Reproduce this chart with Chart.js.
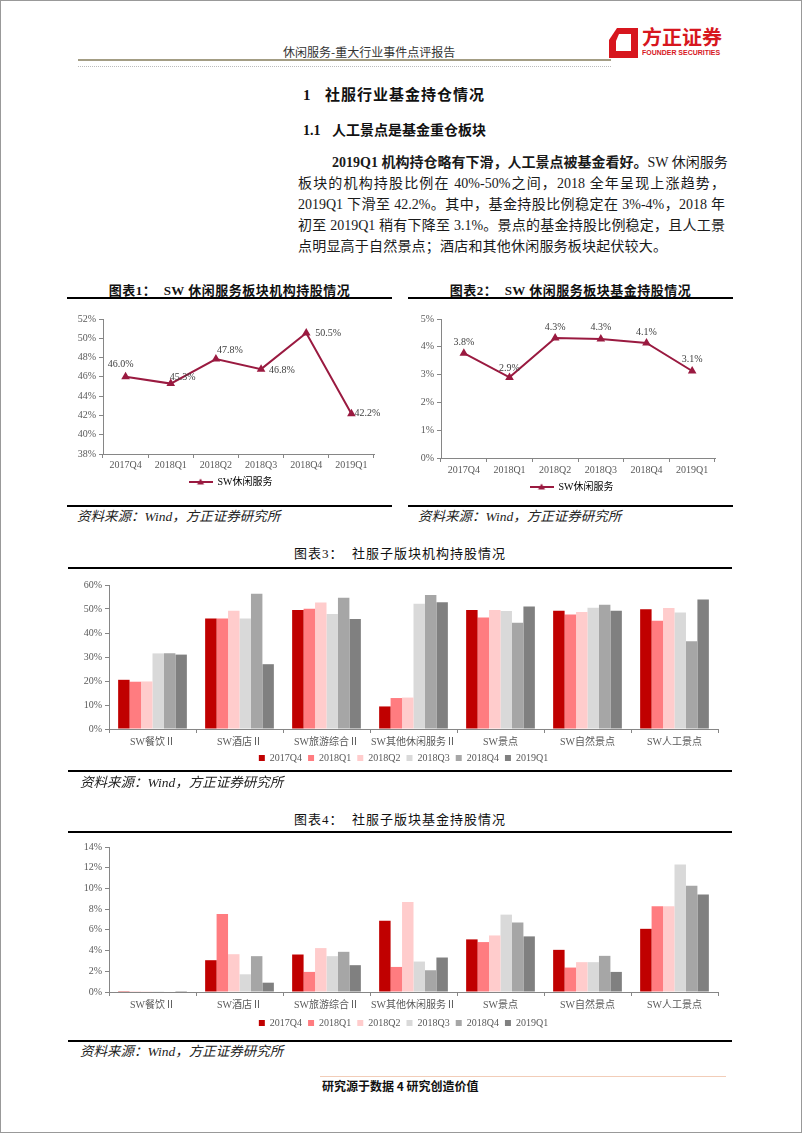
<!DOCTYPE html>
<html>
<head>
<meta charset="utf-8">
<script src="https://cdn.jsdelivr.net/npm/chart.js@4.4.0/dist/chart.umd.min.js"></script>
<style>
html, body { margin: 0; padding: 0; background: #fff; }
#page { position: relative; width: 802px; height: 1133px; overflow: hidden;
  font-family: "Liberation Serif", "Noto Sans CJK SC", serif; color: #111; }
.abs { position: absolute; white-space: nowrap; }
.rule { position: absolute; height: 2px; background: #000; }
.title { position: absolute; text-align: center; font-size: 13px; line-height: 16px; white-space: nowrap; }
.src { position: absolute; font-style: italic; font-size: 13.5px; line-height: 16px; color: #222; white-space: nowrap; }
.para { position: absolute; left: 298px; top: 152px; width: 427px; font-size: 14px; line-height: 21px; color: #1a1a1a; }
.para div { text-align: justify; text-align-last: justify; white-space: nowrap; }
canvas { position: absolute; }
</style>
</head>
<body>
<div id="page">
  <div style="position:absolute;left:0;top:0;width:802px;height:1133px;box-sizing:border-box;border:1px solid #999;"></div>

  <!-- header -->
  <div class="abs" style="left:283px;top:44px;font-family:'Noto Sans CJK SC';font-size:12px;line-height:16px;color:#333;">休闲服务-重大行业事件点评报告</div>
  <div style="position:absolute;left:78px;top:59px;width:533px;height:2px;background:#a39d84;"></div>
  <div style="position:absolute;left:78px;top:66px;width:533px;border-top:1px dotted #bbb;"></div>
  <svg style="position:absolute;left:607px;top:27px;" width="32" height="32" viewBox="0 0 32 32">
    <polygon points="10,1 31,1 31,31 2,31 2,13" fill="#d7161e"/>
    <polygon points="12,7 24,7 24,24 9,24 9,14" fill="#fff"/>
  </svg>
  <div class="abs" style="left:642px;top:26px;font-family:'Noto Sans CJK SC';font-weight:bold;font-size:20px;line-height:22px;color:#d7161e;">方正证券</div>
  <div class="abs" style="left:642px;top:48px;font-family:'Liberation Sans';font-weight:bold;font-size:8px;line-height:9px;color:#d7161e;transform:scaleX(0.87);transform-origin:left;">FOUNDER SECURITIES</div>

  <!-- headings -->
  <div class="abs" style="left:303px;top:85px;font-weight:bold;font-size:15px;line-height:20px;">1</div>
  <div class="abs" style="left:325px;top:85px;font-weight:bold;font-size:15px;line-height:20px;letter-spacing:1px;">社服行业基金持仓情况</div>
  <div class="abs" style="left:303px;top:122px;font-weight:bold;font-size:14px;line-height:18px;">1.1</div>
  <div class="abs" style="left:332px;top:122px;font-weight:bold;font-size:14px;line-height:18px;">人工景点是基金重仓板块</div>

  <div class="para">
    <div style="margin-left:34px;"><b>2019Q1 机构持仓略有下滑，人工景点被基金看好。</b>SW 休闲服务</div>
    <div>板块的机构持股比例在 40%-50%之间，2018 全年呈现上涨趋势，</div>
    <div>2019Q1 下滑至 42.2%。其中，基金持股比例稳定在 3%-4%，2018 年</div>
    <div>初至 2019Q1 稍有下降至 3.1%。景点的基金持股比例稳定，且人工景</div>
    <div style="text-align-last:left;letter-spacing:0.2px;">点明显高于自然景点；酒店和其他休闲服务板块起伏较大。</div>
  </div>

  <!-- chart 1 / 2 -->
  <div class="title" style="left:67px;top:283px;width:325px;font-weight:bold;letter-spacing:0.5px;">图表1：&nbsp;&nbsp;SW 休闲服务板块机构持股情况</div>
  <div class="rule" style="left:67px;top:297px;width:325px;"></div>
  <div class="title" style="left:408px;top:283px;width:325px;font-weight:bold;letter-spacing:0.5px;">图表2：&nbsp;&nbsp;SW 休闲服务板块基金持股情况</div>
  <div class="rule" style="left:408px;top:297px;width:325px;"></div>
  <canvas id="c1" width="325" height="200" style="left:67px;top:300px;"></canvas>
  <canvas id="c2" width="325" height="204" style="left:408px;top:300px;"></canvas>
  <div class="rule" style="left:67px;top:505px;width:325px;"></div>
  <div class="rule" style="left:408px;top:505px;width:325px;"></div>
  <div class="src" style="left:77px;top:509px;">资料来源：Wind，方正证券研究所</div>
  <div class="src" style="left:418px;top:509px;">资料来源：Wind，方正证券研究所</div>

  <!-- chart 3 -->
  <div class="title" style="left:67px;top:546px;width:666px;letter-spacing:1px;">图表3：&nbsp;&nbsp;社服子版块机构持股情况</div>
  <div class="rule" style="left:68px;top:567px;width:664px;"></div>
  <canvas id="c3" width="666" height="204" style="left:67px;top:572px;"></canvas>
  <div class="rule" style="left:68px;top:770px;width:664px;"></div>
  <div class="src" style="left:80px;top:775px;">资料来源：Wind，方正证券研究所</div>

  <!-- chart 4 -->
  <div class="title" style="left:67px;top:812px;width:666px;letter-spacing:1px;">图表4：&nbsp;&nbsp;社服子版块基金持股情况</div>
  <div class="rule" style="left:68px;top:831px;width:664px;"></div>
  <canvas id="c4" width="666" height="204" style="left:67px;top:836px;"></canvas>
  <div class="rule" style="left:68px;top:1040px;width:664px;"></div>
  <div class="src" style="left:80px;top:1044px;">资料来源：Wind，方正证券研究所</div>

  <!-- footer -->
  <div style="position:absolute;left:320px;top:1076px;width:406px;height:1px;background:#f2cdb8;"></div>
  <div class="abs" style="left:322px;top:1078px;font-family:'Noto Sans CJK SC';font-weight:bold;font-size:12px;line-height:16px;color:#111;">研究源于数据 4 研究创造价值</div>
</div>

<script>
// ---- data ----
const quarters = ["2017Q4", "2018Q1", "2018Q2", "2018Q3", "2018Q4", "2019Q1"];
const instHolding = [46.0, 45.3, 47.84, 46.8, 50.54, 42.18];
const fundHolding = [3.77, 2.9, 4.32, 4.28, 4.14, 3.13];
const lineName = "SW休闲服务";

const sectors = ["SW餐饮Ⅱ", "SW酒店Ⅱ", "SW旅游综合Ⅱ", "SW其他休闲服务Ⅱ", "SW景点", "SW自然景点", "SW人工景点"];
// institutional holding by quarter, per sector (%)
const inst2017Q4 = [20.5, 46.0, 49.6, 9.4, 49.6, 49.3, 49.9];
const inst2018Q1 = [19.7, 46.0, 50.1, 12.9, 46.5, 47.7, 45.1];
const inst2018Q2 = [19.8, 49.3, 52.7, 13.1, 49.6, 48.8, 50.4];
const inst2018Q3 = [31.5, 46.0, 47.9, 52.2, 49.2, 50.5, 48.5];
const inst2018Q4 = [31.6, 56.4, 54.7, 55.8, 44.3, 51.8, 36.6];
const inst2019Q1 = [31.0, 27.0, 45.8, 52.8, 51.0, 49.3, 54.0];
// fund holding by quarter, per sector (%)
const fund2017Q4 = [0.08, 3.07, 3.62, 6.88, 5.08, 4.07, 6.10];
const fund2018Q1 = [0.03, 7.52, 1.94, 2.42, 4.82, 2.36, 8.27];
const fund2018Q2 = [0.02, 3.65, 4.24, 8.70, 5.46, 2.88, 8.27];
const fund2018Q3 = [0.02, 1.71, 3.46, 2.94, 7.47, 2.88, 12.32];
const fund2018Q4 = [0.05, 3.46, 3.88, 2.10, 6.72, 3.49, 10.25];
const fund2019Q1 = [0.01, 0.90, 2.59, 3.33, 5.37, 1.94, 9.41];

// ---- styles ----
const LINE_COLOR = "#9a1a40";
const AXIS_COLOR = "#868686";
const TEXT_COLOR = "#595959";
const QUARTER_COLORS = ["#c00000", "#ff7c80", "#ffcccc", "#d9d9d9", "#a6a6a6", "#808080"];
// label placement [dx, dy, align] for the two line charts
const instLabelPos = [[-5, -12, "center"], [-1, -6, "left"], [1, -9, "left"], [8, 1, "left"], [9, 0, "left"], [3, 0, "left"]];
const fundLabelPos = [[0, -11, "center"], [0, -9, "center"], [0, -11, "center"], [0, -12, "center"], [0, -11, "center"], [0, -12, "center"]];

Chart.defaults.font.family = '"Liberation Serif", "Noto Sans CJK SC", serif';
Chart.defaults.font.size = 10;
Chart.defaults.color = TEXT_COLOR;

function yAxis(min, max, step, width) {
    return {
        min: min,
        max: max,
        ticks: { stepSize: step, padding: 3, callback: (v) => v + "%" },
        grid: { drawOnChartArea: false, tickLength: 4, color: AXIS_COLOR },
        border: { color: AXIS_COLOR },
        afterFit: (scale) => { scale.width = width; },
    };
}

function xAxis(height, pad) {
    return {
        offset: true,
        ticks: { padding: pad, autoSkip: false, maxRotation: 0 },
        grid: { offset: true, drawOnChartArea: false, tickLength: 4, color: AXIS_COLOR },
        border: { color: AXIS_COLOR },
        afterFit: (scale) => { scale.height = height; },
    };
}

// nudges the legend sideways so it sits where the original one does
function legendShift(dx) {
    return {
        id: "legendShift",
        afterLayout(chart) {
            chart.legend.left += dx;
            chart.legend.right += dx;
        },
    };
}

// small line-with-triangle icon for the line chart legend
function lineIcon() {
    const c = document.createElement("canvas");
    c.width = 24;
    c.height = 8;
    const g = c.getContext("2d");
    g.strokeStyle = LINE_COLOR;
    g.lineWidth = 2;
    g.beginPath();
    g.moveTo(0, 4);
    g.lineTo(24, 4);
    g.stroke();
    g.fillStyle = LINE_COLOR;
    g.beginPath();
    g.moveTo(12, 0.5);
    g.lineTo(15.5, 6.5);
    g.lineTo(8.5, 6.5);
    g.closePath();
    g.fill();
    return c;
}

function valueLabels(positions) {
    return {
        id: "valueLabels",
        afterDatasetsDraw(chart) {
            const ctx = chart.ctx;
            const meta = chart.getDatasetMeta(0);
            const values = chart.data.datasets[0].data;
            ctx.save();
            ctx.font = '10px "Liberation Serif"';
            ctx.fillStyle = "#404040";
            ctx.textBaseline = "middle";
            meta.data.forEach((pt, i) => {
                const [dx, dy, align] = positions[i];
                ctx.textAlign = align;
                ctx.fillText(values[i].toFixed(1) + "%", pt.x + dx, pt.y + dy);
            });
            ctx.restore();
        },
    };
}

function lineChart(id, values, yMin, yMax, step, opts) {
    const icon = lineIcon();
    return new Chart(document.getElementById(id), {
        type: "line",
        data: {
            labels: quarters,
            datasets: [{
                label: lineName,
                data: values,
                borderColor: LINE_COLOR,
                backgroundColor: LINE_COLOR,
                borderWidth: 2,
                pointStyle: "triangle",
                pointRadius: 3,
                tension: 0,
            }],
        },
        options: {
            responsive: false,
            animation: false,
            devicePixelRatio: 1,
            layout: { padding: opts.padding },
            scales: {
                x: xAxis(20, opts.xPad),
                y: yAxis(yMin, yMax, step, opts.yWidth),
            },
            plugins: {
                tooltip: { enabled: false },
                legend: {
                    position: "bottom",
                    labels: {
                        usePointStyle: true,
                        pointStyleWidth: 24,
                        padding: opts.legendPad,
                        color: TEXT_COLOR,
                        font: { size: 10 },
                        generateLabels: () => [{
                            text: lineName,
                            pointStyle: icon,
                            fillStyle: LINE_COLOR,
                            strokeStyle: LINE_COLOR,
                            lineWidth: 0,
                            hidden: false,
                            datasetIndex: 0,
                        }],
                    },
                },
            },
        },
        plugins: [valueLabels(opts.labelPos), legendShift(opts.legendDx)],
    });
}

function barChart(id, series, yMax, step, opts) {
    return new Chart(document.getElementById(id), {
        type: "bar",
        data: {
            labels: sectors,
            datasets: series.map((s, i) => ({
                label: quarters[i],
                data: s,
                backgroundColor: QUARTER_COLORS[i],
                borderWidth: 0,
                barPercentage: 1,
                categoryPercentage: 0.79,
            })),
        },
        options: {
            responsive: false,
            animation: false,
            devicePixelRatio: 1,
            layout: { padding: opts.padding },
            scales: {
                x: xAxis(opts.xHeight, 3),
                y: yAxis(0, yMax, step, opts.yWidth),
            },
            plugins: {
                tooltip: { enabled: false },
                legend: {
                    position: "bottom",
                    labels: {
                        boxWidth: 6,
                        boxHeight: 6,
                        padding: 6,
                        color: TEXT_COLOR,
                        font: { size: 10 },
                    },
                },
            },
        },
        plugins: [legendShift(opts.legendDx)],
    });
}

lineChart("c1", instHolding, 38, 52, 2, {
    padding: { top: 19, right: 18, left: 0, bottom: 3 },
    yWidth: 36, xPad: 1, legendPad: 3, labelPos: instLabelPos, legendDx: 10,
});
lineChart("c2", fundHolding, 0, 5, 1, {
    padding: { top: 19, right: 18, left: 0, bottom: 2 },
    yWidth: 33, xPad: 2, legendPad: 4, labelPos: fundLabelPos, legendDx: 10,
});
barChart("c3", [inst2017Q4, inst2018Q1, inst2018Q2, inst2018Q3, inst2018Q4, inst2019Q1], 60, 10, {
    padding: { top: 13, right: 15, left: 0, bottom: 3 },
    yWidth: 42, xHeight: 18, legendDx: 11,
});
barChart("c4", [fund2017Q4, fund2018Q1, fund2018Q2, fund2018Q3, fund2018Q4, fund2019Q1], 14, 2, {
    padding: { top: 11, right: 15, left: 0, bottom: 2 },
    yWidth: 42, xHeight: 20, legendDx: 11,
});
</script>
</body>
</html>
